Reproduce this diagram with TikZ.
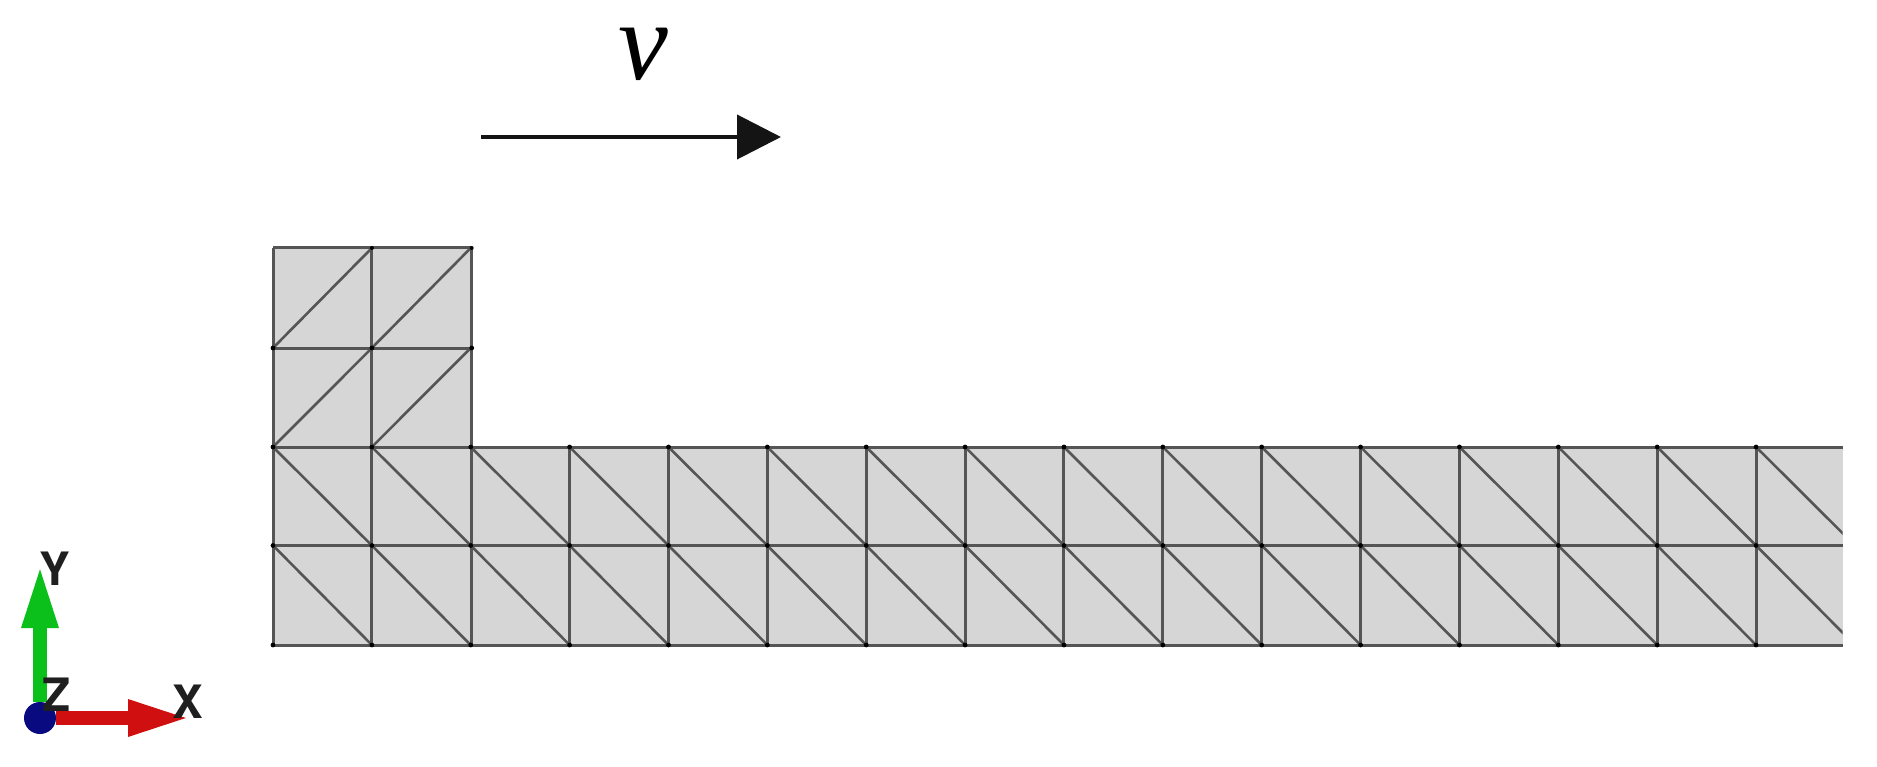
\documentclass[tikz,border=0pt]{standalone}
\usepackage{fontspec}
\newfontfamily\axisfont{TeX Gyre Heros}
\newfontfamily\velfont{Liberation Serif}
\usetikzlibrary{arrows.meta}
\definecolor{meshfill}{HTML}{D6D6D6}
\definecolor{meshline}{HTML}{555555}
\definecolor{axgreen}{HTML}{0CC01C}
\definecolor{axred}{HTML}{D01010}
\definecolor{axblue}{HTML}{0A0A80}
\tikzset{
  meshedge/.style={draw=meshline,line width=3pt},
  meshnode/.style={fill=black,draw=none},
  axislabel/.style={font=\axisfont\bfseries\fontsize{46}{46}\selectfont,text=black!88,inner sep=0pt},
  axisarrow/.style={line width=14pt},
}
\begin{document}
\begin{tikzpicture}[x=1pt,y=-1pt]
\useasboundingbox (0,0) rectangle (1877,767);
\fill[white] (0,0) rectangle (1877,767);
\def\xz{273}\def\dx{98.87}
% mesh fill
\fill[meshfill] (273,248) rectangle (471.7,447);
\fill[meshfill] (273,447) rectangle (1842.5,645);
% block cells
\foreach \i in {0,1}{
  \foreach \ya/\yb in {248/348,348/447}{
    \pgfmathsetmacro\xa{\xz+\i*\dx}
    \pgfmathsetmacro\xb{\xz+(\i+1)*\dx}
    \draw[meshedge,line width=2.6pt] (\xa,\yb) -- (\xb,\ya);
  }
}
% strip cells, cut at the right end
\begin{scope}
\clip (270,440) rectangle (1842.5,650);
\foreach \i in {0,...,15}{
  \foreach \ya/\yb in {447/545.5,545.5/645}{
    \pgfmathsetmacro\xa{\xz+\i*\dx}
    \pgfmathsetmacro\xb{\xz+(\i+1)*\dx}
    \draw[meshedge,line width=2.6pt] (\xa,\ya) -- (\xb,\yb);
  }
}
\end{scope}
% grid lines
\draw[meshedge,line cap=square] (273,248) -- (471.7,248);
\draw[meshedge] (273,348) -- (471.7,348);
\draw[meshedge] (273,447) -- (1842.5,447);
\draw[meshedge] (273,545.5) -- (1842.5,545.5);
\draw[meshedge] (273,645) -- (1842.5,645);
\draw[meshedge,line cap=square] (273,248) -- (273,645);
\draw[meshedge] (371.9,248) -- (371.9,645);
\draw[meshedge,line cap=square] (471.7,248) -- (471.7,645);
\foreach \i in {3,...,15}{
  \pgfmathsetmacro\xa{\xz+\i*\dx}
  \draw[meshedge] (\xa,447) -- (\xa,645);
}
% vertices
\foreach \i in {0,...,15}{
  \pgfmathsetmacro\xa{\xz+\i*\dx}
  \foreach \y in {447,545.5,645}{
    \fill[meshnode] (\xa,\y) circle (2.4);
  }
}
\foreach \xa in {273,371.9,471.7}{
  \fill[meshnode] (\xa,348) circle (2.4);
}
\fill[meshnode] (371.9,248) circle (2);
\fill[meshnode] (471.7,248) circle (2);
% velocity arrow
\coordinate (vstart) at (481,137);
\coordinate (vend) at (781,137);
\draw[line width=4pt,black!92,-{Triangle[length=44pt,width=44pt]}] (vstart) -- (vend);
\node[inner sep=0pt,text=black,font=\velfont\itshape\fontsize{112}{112}\selectfont] (vlabel) at (643,54) {v};
% axis triad
\node[circle,fill=axblue,minimum size=32pt,inner sep=0pt] (origin) at (40,718) {};
\coordinate (ytip) at (40,564);
\coordinate (xtip) at (191,718);
\draw[axisarrow,draw=axgreen,-{Triangle[length=64pt,width=33pt]}] (origin.north) -- (ytip);
\draw[axisarrow,draw=axred,-{Triangle[length=63pt,width=33pt]}] (origin.east) -- (xtip);
\node[axislabel] (ylabel) at (55,569) {Y};
\node[axislabel] (zlabel) at (57,695) {Z};
\node[axislabel] (xlabel) at (188,702) {X};
\end{tikzpicture}
\end{document}
